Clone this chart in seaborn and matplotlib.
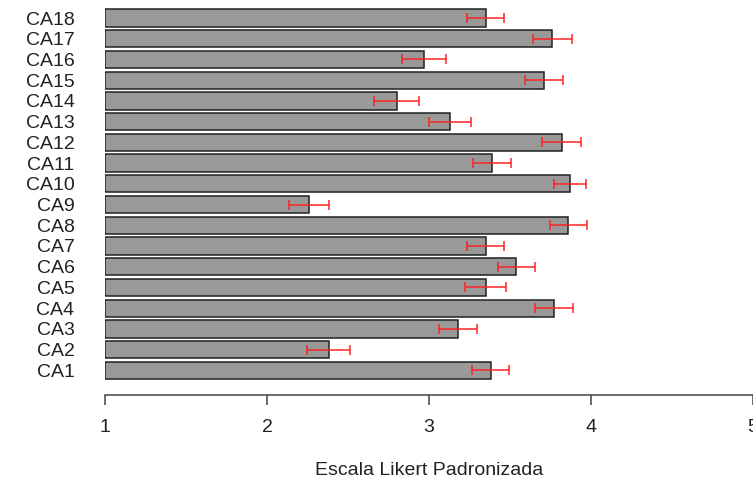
import matplotlib
matplotlib.use("Agg")
import matplotlib.pyplot as plt
import seaborn as sns
import pandas as pd

categories = ["CA18", "CA17", "CA16", "CA15", "CA14", "CA13", "CA12", "CA11", "CA10",
              "CA9", "CA8", "CA7", "CA6", "CA5", "CA4", "CA3", "CA2", "CA1"]
means = [3.35, 3.76, 2.97, 3.71, 2.80, 3.13, 3.82, 3.39, 3.87,
         2.26, 3.86, 3.35, 3.54, 3.35, 3.77, 3.18, 2.38, 3.38]
errors = [0.116, 0.12, 0.135, 0.118, 0.137, 0.131, 0.12, 0.119, 0.10,
          0.125, 0.115, 0.116, 0.115, 0.126, 0.116, 0.118, 0.132, 0.116]
xticks = [1, 2, 3, 4, 5]
xlabel = "Escala Likert Padronizada"
baseline = 1

df = pd.DataFrame({"cat": categories, "mean": means, "err": errors})

sns.set_style("white")
plt.rcParams["font.family"] = ["Liberation Sans", "DejaVu Sans"]

fig = plt.figure(figsize=(7.53, 4.79), dpi=100)
ax = fig.add_axes([105 / 753, (479 - 395) / 479, 1 - 105 / 753, 395 / 479])

sns.barplot(data=df, x="mean", y="cat", order=categories, orient="h",
            color="#999999", saturation=1, width=0.833,
            edgecolor="#222222", linewidth=1.1, errorbar=None, ax=ax)

# bars start at the scale baseline (1), as in the original
for p in ax.patches:
    w = p.get_width()
    p.set_x(baseline)
    p.set_width(w - baseline)

ypos = list(range(len(categories)))
ax.errorbar(df["mean"], ypos, xerr=df["err"], fmt="none", ecolor="#ff2020",
            elinewidth=1.2, capsize=3.5, capthick=1.2, alpha=0.9, zorder=5)

ax.set_xlim(1, 5)
ax.set_ylim(18.19, -0.87)
ax.set_xticks(xticks)
ax.set_xticklabels([str(t) for t in xticks])
ax.set_xlabel(xlabel, fontsize=14, labelpad=19, color="#222222")
ax.set_ylabel("")

for s in ["left", "top", "right"]:
    ax.spines[s].set_visible(False)
ax.spines["bottom"].set_color("#444444")
ax.spines["bottom"].set_linewidth(1.1)

ax.tick_params(axis="x", length=7, width=1.1, color="#444444", pad=10,
               labelsize=14, labelcolor="#222222", bottom=True)
ax.tick_params(axis="y", length=0, pad=22, labelsize=14, labelcolor="#222222")

fig.savefig("out.png", dpi=100)
